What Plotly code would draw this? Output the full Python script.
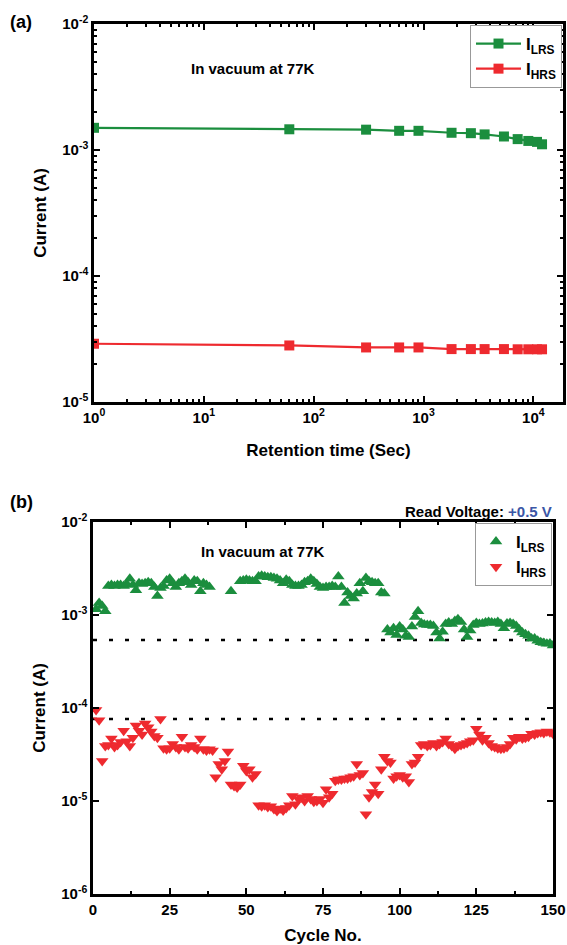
import plotly.graph_objects as go

# ---------------- Panel (a) data ----------------
ret_time = [1, 60, 300, 600, 900, 1800, 2700, 3600, 5400, 7200, 9000, 10800, 12000]
ret_lrs = [1.50e-3, 1.46e-3, 1.45e-3, 1.42e-3, 1.42e-3, 1.37e-3, 1.36e-3, 1.33e-3,
           1.28e-3, 1.22e-3, 1.18e-3, 1.16e-3, 1.11e-3]
ret_hrs = [2.90e-5, 2.81e-5, 2.71e-5, 2.71e-5, 2.71e-5, 2.63e-5, 2.63e-5, 2.63e-5,
           2.63e-5, 2.62e-5, 2.62e-5, 2.62e-5, 2.62e-5]
x_ticks_a = [1, 10, 100, 1000, 10000]
x_ticktext_a = ["<b>10<sup>0</sup></b>", "<b>10<sup>1</sup></b>", "<b>10<sup>2</sup></b>",
                "<b>10<sup>3</sup></b>", "<b>10<sup>4</sup></b>"]
y_ticks_a = [1e-5, 1e-4, 1e-3, 1e-2]
y_ticktext_a = ["<b>10<sup>-5</sup></b>", "<b>10<sup>-4</sup></b>", "<b>10<sup>-3</sup></b>",
                "<b>10<sup>-2</sup></b>"]

# ---------------- Panel (b) data ----------------
cycles = list(range(1, 151))
cyc_lrs = [
    1.15e-3, 1.35e-3, 1.25e-3, 1.10e-3, 2.05e-3, 2.10e-3, 2.05e-3, 2.10e-3, 2.10e-3, 2.05e-3,
    2.15e-3, 2.45e-3, 2.10e-3, 1.85e-3, 2.20e-3, 2.15e-3, 2.20e-3, 2.25e-3, 2.20e-3, 2.00e-3,
    1.60e-3, 1.95e-3, 2.05e-3, 2.35e-3, 2.45e-3, 2.20e-3, 2.00e-3, 2.20e-3, 2.30e-3, 2.45e-3,
    2.25e-3, 2.10e-3, 2.35e-3, 2.30e-3, 1.80e-3, 2.20e-3, 2.10e-3, 2.00e-3, None, None,
    None, None, None, None, 1.80e-3, None, None, 2.30e-3, 2.35e-3, 2.40e-3,
    2.35e-3, 2.30e-3, 2.30e-3, 2.60e-3, 2.65e-3, 2.60e-3, 2.55e-3, 2.55e-3, 2.50e-3, 2.45e-3,
    2.35e-3, 2.20e-3, 2.40e-3, 2.30e-3, 2.10e-3, 2.05e-3, 2.05e-3, 2.10e-3, 2.25e-3, 2.30e-3,
    2.45e-3, 2.30e-3, 2.15e-3, 2.00e-3, 1.95e-3, 2.00e-3, 2.00e-3, 2.05e-3, 2.00e-3, 2.60e-3,
    2.00e-3, 1.35e-3, 1.75e-3, 1.60e-3, 1.50e-3, 1.70e-3, 2.20e-3, 1.80e-3, 2.50e-3, 2.30e-3,
    2.25e-3, 2.20e-3, 2.20e-3, 1.75e-3, 1.70e-3, 7.00e-4, 6.50e-4, 7.20e-4, 6.10e-4, 7.50e-4,
    7.00e-4, 6.00e-4, 5.80e-4, 7.50e-4, 9.50e-4, 1.10e-3, 8.20e-4, 7.90e-4, 7.80e-4, 7.80e-4,
    7.60e-4, 6.50e-4, 5.60e-4, 6.60e-4, 8.00e-4, 8.30e-4, 8.00e-4, 8.60e-4, 9.00e-4, 8.40e-4,
    7.00e-4, 5.80e-4, 6.80e-4, 7.80e-4, 8.20e-4, 8.00e-4, 8.10e-4, 8.30e-4, 8.40e-4, 8.30e-4,
    8.20e-4, 8.40e-4, 8.00e-4, 7.20e-4, 8.10e-4, 8.20e-4, 8.00e-4, 7.60e-4, 7.00e-4, 6.50e-4,
    6.20e-4, 6.00e-4, 5.60e-4, 5.60e-4, 5.30e-4, 5.10e-4, 5.00e-4, 4.90e-4, 4.95e-4, 4.70e-4,
]
cyc_hrs = [
    9.5e-5, 7.4e-5, 2.7e-5, 3.9e-5, 4.0e-5, 4.7e-5, 3.8e-5, 4.0e-5, 4.3e-5, 5.7e-5,
    4.4e-5, 3.9e-5, 4.8e-5, 6.5e-5, 5.7e-5, 5.2e-5, 6.8e-5, 6.2e-5, 5.6e-5, 5.0e-5,
    4.8e-5, 7.6e-5, 3.7e-5, 3.6e-5, 3.7e-5, 4.1e-5, 3.8e-5, 3.6e-5, 4.9e-5, 3.8e-5,
    3.7e-5, 4.0e-5, 3.8e-5, 3.6e-5, 4.7e-5, 3.6e-5, 3.5e-5, 3.6e-5, 3.5e-5, 1.8e-5,
    2.5e-5, 2.2e-5, 2.7e-5, 3.4e-5, 1.5e-5, 1.45e-5, 1.4e-5, 1.5e-5, 2.4e-5, 2.1e-5,
    2.2e-5, 1.8e-5, 1.95e-5, 9.0e-6, 8.8e-6, 9.0e-6, 8.6e-6, 8.8e-6, 8.2e-6, 7.8e-6,
    8.3e-6, 7.9e-6, 8.4e-6, 9.0e-6, 1.13e-5, 9.2e-6, 1.05e-5, 1.1e-5, 1.0e-5, 1.13e-5,
    1.05e-5, 9.8e-6, 1.0e-5, 1.05e-5, 9.6e-6, 1.34e-5, 1.1e-5, 1.2e-5, 1.65e-5, 1.7e-5,
    1.7e-5, 1.75e-5, 1.75e-5, 1.8e-5, 1.85e-5, 2.5e-5, 1.9e-5, 2.0e-5, 7.2e-6, 1.1e-5,
    1.25e-5, 1.5e-5, 1.2e-5, 2.2e-5, 3.0e-5, 2.7e-5, 2.6e-5, 1.75e-5, 1.85e-5, 1.9e-5,
    1.8e-5, 1.85e-5, 1.6e-5, 2.5e-5, 2.6e-5, 3.0e-5, 4.0e-5, 4.1e-5, 3.9e-5, 4.0e-5,
    4.2e-5, 3.9e-5, 4.1e-5, 4.3e-5, 4.7e-5, 4.1e-5, 3.9e-5, 3.65e-5, 3.9e-5, 4.0e-5,
    4.1e-5, 4.2e-5, 4.4e-5, 4.5e-5, 6.0e-5, 5.2e-5, 4.5e-5, 4.8e-5, 4.2e-5, 3.9e-5,
    3.8e-5, 3.7e-5, 3.65e-5, 3.7e-5, 3.8e-5, 4.1e-5, 4.8e-5, 4.6e-5, 4.9e-5, 4.7e-5,
    4.8e-5, 4.9e-5, 5.3e-5, 5.2e-5, 5.4e-5, 5.5e-5, 5.4e-5, 5.6e-5, 5.5e-5, 5.3e-5,
]
lrs_limit = 5.4e-4
hrs_limit = 7.6e-5
limit_x = [0, 150]
x_ticks_b = [0, 25, 50, 75, 100, 125, 150]
y_ticks_b = [1e-6, 1e-5, 1e-4, 1e-3, 1e-2]
y_ticktext_b = ["<b>10<sup>-6</sup></b>", "<b>10<sup>-5</sup></b>", "<b>10<sup>-4</sup></b>",
                "<b>10<sup>-3</sup></b>", "<b>10<sup>-2</sup></b>"]

GREEN = "#1B8E3E"
RED = "#EE2A2F"
FONT = "Liberation Sans, Arial, sans-serif"

fig = go.Figure()

# Panel (a)
fig.add_trace(go.Scatter(x=ret_time, y=ret_lrs, mode="lines+markers", name="<b>I<sub>LRS</sub></b>",
                         line=dict(color=GREEN, width=2.2),
                         marker=dict(symbol="square", size=10, color=GREEN),
                         xaxis="x", yaxis="y", legend="legend"))
fig.add_trace(go.Scatter(x=ret_time, y=ret_hrs, mode="lines+markers", name="<b>I<sub>HRS</sub></b>",
                         line=dict(color=RED, width=2.2),
                         marker=dict(symbol="square", size=10, color=RED),
                         xaxis="x", yaxis="y", legend="legend"))

# Panel (b)
fig.add_trace(go.Scatter(x=limit_x, y=[lrs_limit, lrs_limit], mode="lines", showlegend=False,
                         line=dict(color="black", width=2.5, dash="4px,12px"),
                         xaxis="x2", yaxis="y2"))
fig.add_trace(go.Scatter(x=limit_x, y=[hrs_limit, hrs_limit], mode="lines", showlegend=False,
                         line=dict(color="black", width=2.5, dash="4px,12px"),
                         xaxis="x2", yaxis="y2"))
fig.add_trace(go.Scatter(x=cycles, y=cyc_lrs, mode="markers", name="<b>I<sub>LRS</sub></b>",
                         marker=dict(symbol="triangle-up", size=11, color=GREEN),
                         xaxis="x2", yaxis="y2", legend="legend2"))
fig.add_trace(go.Scatter(x=cycles, y=cyc_hrs, mode="markers", name="<b>I<sub>HRS</sub></b>",
                         marker=dict(symbol="triangle-down", size=11, color=RED),
                         xaxis="x2", yaxis="y2", legend="legend2"))

W, H = 567, 945
def px_x(p): return p / W
def px_y(p): return 1 - p / H

axis_common = dict(showline=True, linecolor="black", linewidth=2.5, mirror="ticks",
                   ticks="inside", tickcolor="black", tickwidth=2, ticklen=6,
                   showgrid=False, zeroline=False, automargin=False,
                   tickfont=dict(family=FONT, size=15, color="black", weight="bold"),
                   title_font=dict(family=FONT, size=17, color="black", weight="bold"))
log_minor = dict(ticks="inside", ticklen=3, tickwidth=1.5, tickcolor="black",
                 dtick="D1", showgrid=False)

fig.update_layout(
    width=W, height=H, margin=dict(l=0, r=0, t=0, b=0, pad=0), autosize=False,
    paper_bgcolor="white", plot_bgcolor="white",
    font=dict(family=FONT, color="black"),
    xaxis=dict(type="log", range=[0, 4.27], domain=[px_x(94), px_x(563)], anchor="y",
               tickvals=x_ticks_a, ticktext=x_ticktext_a, minor=log_minor,
               title=dict(text="Retention time (Sec)", standoff=20), **axis_common),
    yaxis=dict(type="log", range=[-5, -2], domain=[px_y(402), px_y(24)], anchor="x",
               tickvals=y_ticks_a, ticktext=y_ticktext_a, minor=log_minor,
               title=dict(text="Current (A)", standoff=12), **axis_common),
    xaxis2=dict(range=[0, 150], domain=[px_x(93), px_x(553)], anchor="y2",
                tickvals=x_ticks_b,
                minor=dict(ticks="inside", ticklen=3, tickwidth=1.5, tickcolor="black",
                           dtick=12.5, tick0=0, showgrid=False),
                title=dict(text="Cycle No.", standoff=14), **axis_common),
    yaxis2=dict(type="log", range=[-6, -2], domain=[px_y(894), px_y(522)], anchor="x2",
                tickvals=y_ticks_b, ticktext=y_ticktext_b,
                title=dict(text="Current (A)", standoff=12), **axis_common),
    legend=dict(x=px_x(562), y=px_y(25), xanchor="right", yanchor="top",
                bgcolor="white", bordercolor="#999999", borderwidth=1,
                font=dict(family=FONT, size=17, color="black"),
                itemwidth=45, tracegroupgap=2),
    legend2=dict(x=px_x(552), y=px_y(523), xanchor="right", yanchor="top",
                 bgcolor="white", bordercolor="#999999", borderwidth=1,
                 font=dict(family=FONT, size=17, color="black"),
                 itemwidth=30, tracegroupgap=2),
    showlegend=True,
)

ann_font = dict(family=FONT, size=15, color="black", weight="bold")
fig.add_annotation(text="(a)", x=px_x(8), y=px_y(22), xref="paper", yref="paper",
                   xanchor="left", yanchor="middle", showarrow=False,
                   font=dict(family=FONT, size=18, color="black", weight="bold"))
fig.add_annotation(text="(b)", x=px_x(8), y=px_y(502), xref="paper", yref="paper",
                   xanchor="left", yanchor="middle", showarrow=False,
                   font=dict(family=FONT, size=18, color="black", weight="bold"))
fig.add_annotation(text="In vacuum at 77K", x=px_x(253), y=px_y(68), xref="paper", yref="paper",
                   xanchor="center", yanchor="middle", showarrow=False, font=ann_font)
fig.add_annotation(text="In vacuum at 77K", x=px_x(263), y=px_y(551), xref="paper", yref="paper",
                   xanchor="center", yanchor="middle", showarrow=False, font=ann_font)
fig.add_annotation(text="Read Voltage: <span style='color:#3B56A6'>+0.5 V</span>",
                   x=px_x(554), y=px_y(511), xref="paper", yref="paper",
                   xanchor="right", yanchor="middle", showarrow=False, font=ann_font)

fig.write_html("out.html", config={"displayModeBar": False},
               post_script="document.body.style.margin='0px';")
